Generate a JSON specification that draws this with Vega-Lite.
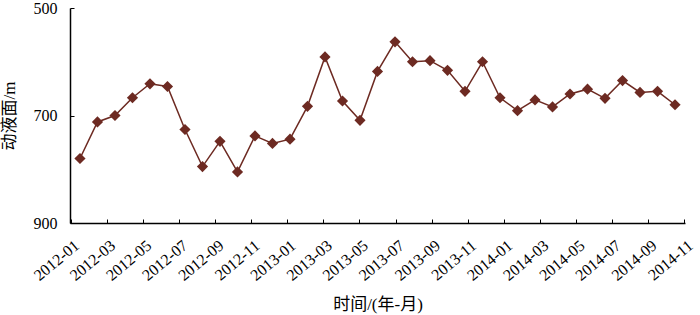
{
  "$schema": "https://vega.github.io/schema/vega-lite/v6.json",
  "width": 615,
  "height": 215,
  "autosize": "none",
  "padding": {"left": 70, "top": 8, "right": 15, "bottom": 92},
  "background": "white",
  "config": {"view": {"stroke": null}, "font": "Liberation Serif"},
  "data": {
    "values": [
      {"month": "2012-01", "depth": 780},
      {"month": "2012-02", "depth": 712},
      {"month": "2012-03", "depth": 700},
      {"month": "2012-04", "depth": 667},
      {"month": "2012-05", "depth": 641},
      {"month": "2012-06", "depth": 646},
      {"month": "2012-07", "depth": 726},
      {"month": "2012-08", "depth": 795},
      {"month": "2012-09", "depth": 748},
      {"month": "2012-10", "depth": 805},
      {"month": "2012-11", "depth": 738},
      {"month": "2012-12", "depth": 752},
      {"month": "2013-01", "depth": 744},
      {"month": "2013-02", "depth": 683},
      {"month": "2013-03", "depth": 591},
      {"month": "2013-04", "depth": 673},
      {"month": "2013-05", "depth": 709},
      {"month": "2013-06", "depth": 618},
      {"month": "2013-07", "depth": 563},
      {"month": "2013-08", "depth": 600},
      {"month": "2013-09", "depth": 598},
      {"month": "2013-10", "depth": 616},
      {"month": "2013-11", "depth": 655},
      {"month": "2013-12", "depth": 600},
      {"month": "2014-01", "depth": 667},
      {"month": "2014-02", "depth": 691},
      {"month": "2014-03", "depth": 671},
      {"month": "2014-04", "depth": 684},
      {"month": "2014-05", "depth": 660},
      {"month": "2014-06", "depth": 651},
      {"month": "2014-07", "depth": 668},
      {"month": "2014-08", "depth": 635},
      {"month": "2014-09", "depth": 657},
      {"month": "2014-10", "depth": 655},
      {"month": "2014-11", "depth": 680}
    ]
  },
  "encoding": {
    "y": {
      "field": "depth",
      "type": "quantitative",
      "scale": {"domain": [500, 900], "reverse": true, "nice": false, "zero": false},
      "axis": {
        "title": "动液面/m",
        "values": [500, 700, 900],
        "tickSize": -4,
        "labelPadding": 17,
        "domainColor": "#000",
        "domainWidth": 1.5,
        "tickColor": "#000",
        "labelColor": "#000",
        "labelFont": "Liberation Serif",
        "labelFontSize": 16,
        "titleFont": "Liberation Serif, Noto Sans CJK SC",
        "titleFontSize": 17,
        "titleFontWeight": "normal",
        "titleColor": "#000",
        "titlePadding": 15,
        "grid": false
      }
    }
  },
  "layer": [
    {
      "mark": {"type": "line", "color": "#6d2a22", "strokeWidth": 1.5},
      "encoding": {
        "x": {"field": "month", "type": "ordinal", "sort": null, "scale": {"type": "point", "padding": 0.57}, "axis": null}
      }
    },
    {
      "mark": {"type": "point", "shape": "diamond", "filled": true, "size": 125, "color": "#6d2a22", "opacity": 1},
      "encoding": {
        "x": {"field": "month", "type": "ordinal", "sort": null, "scale": {"type": "point", "padding": 0.57}, "axis": null}
      }
    },
    {
      "mark": {"type": "point", "opacity": 0},
      "encoding": {
        "x": {
          "field": "month",
          "type": "ordinal",
          "sort": null,
          "scale": {"type": "point", "padding": 0.035},
          "axis": {
            "orient": "bottom",
            "title": "时间/(年-月)",
            "values": ["2012-01","2012-03","2012-05","2012-07","2012-09","2012-11","2013-01","2013-03","2013-05","2013-07","2013-09","2013-11","2014-01","2014-03","2014-05","2014-07","2014-09","2014-11"],
            "labelAngle": -40,
            "labelAlign": "right",
            "labelBaseline": "middle",
            "labelOffset": 6,
            "tickSize": -4,
            "labelPadding": 24,
            "domainColor": "#000",
            "domainWidth": 1.5,
            "tickColor": "#000",
            "tickWidth": 1,
            "labelColor": "#000",
            "labelFont": "Liberation Serif",
            "labelFontSize": 16,
            "titleFont": "Liberation Serif, Noto Sans CJK SC",
            "titleFontSize": 17,
            "titleFontWeight": "normal",
            "titleColor": "#000",
            "titlePadding": 13,
            "grid": false
          }
        }
      }
    }
  ],
  "resolve": {"scale": {"x": "independent"}, "axis": {"x": "independent"}}
}
